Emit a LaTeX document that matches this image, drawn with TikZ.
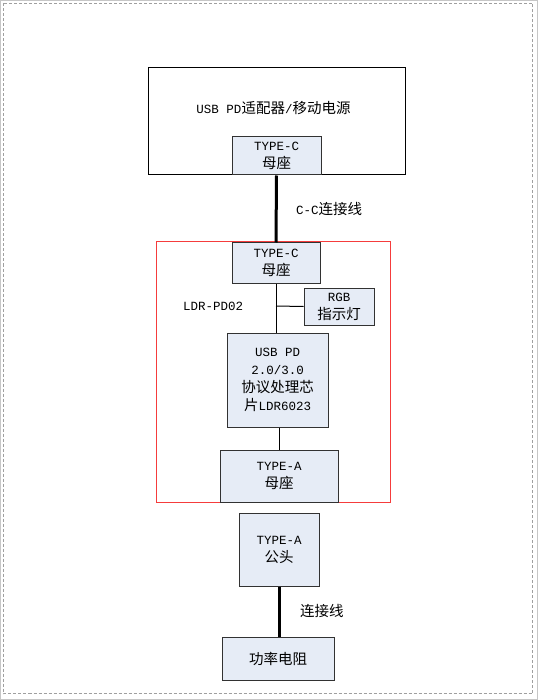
\documentclass[tikz,border=0pt]{standalone}
\usepackage{fontspec}
\setmainfont{Liberation Mono}
\newfontfamily\cjkf{Noto Sans CJK SC}
\newcommand{\cjk}{\cjkf\fontsize{14.5}{18}\selectfont}
\definecolor{boxfill}{RGB}{230,236,246}
\definecolor{boxline}{RGB}{50,50,50}
\definecolor{redline}{RGB}{245,60,60}
\tikzset{
  blk/.style={draw=boxline, line width=1pt, fill=boxfill, inner sep=0pt, align=center,
    font=\fontsize{12.5}{18}\selectfont},
  plain/.style={inner sep=0pt, font=\fontsize{12.5}{18}\selectfont},
  thin/.style={draw=black, line width=1pt},
  thick/.style={draw=black, line width=3pt},
}
\begin{document}
\begin{tikzpicture}[x=1pt,y=-1pt]
\useasboundingbox (0,0) rectangle (538,700);
\fill[white] (0,0) rectangle (538,700);
\draw[gray!45, line width=1pt] (0.5,0.5) rectangle (537.5,699.5);
\draw[gray!75, line width=1.5pt, dash pattern=on 3pt off 2pt] (3.5,3.5) rectangle (532.5,693.5);
% top device
\node[draw=black, line width=1pt, minimum width=257pt, minimum height=107pt, inner sep=0pt] (dev) at (276.5,121.5) {};
\node[plain] (devtxt) at (273.5,108) {USB PD{\cjk 适配器}/{\cjk 移动电源}};
\node[blk, minimum width=89pt, minimum height=38pt] (tc1) at (276.5,156) {TYPE-C\\{\cjk 母座}};
% red board
\node[draw=redline, line width=1pt, minimum width=234pt, minimum height=260pt, inner sep=0pt] (board) at (273,372) {};
\node[plain, anchor=west] (boardlbl) at (183,306) {LDR-PD02};
\node[blk, minimum width=88pt, minimum height=40pt] (tc2) at (276,263) {TYPE-C\\{\cjk 母座}};
\node[blk, minimum width=70pt, minimum height=37pt] (rgb) at (339,306.5) {RGB\\{\cjk 指示灯}};
\node[blk, minimum width=101pt, minimum height=94pt] (chip) at (277.5,380) {USB PD\\2.0/3.0\\{\cjk 协议处理芯}\\{\cjk 片}LDR6023};
\node[blk, minimum width=118pt, minimum height=52pt] (ta1) at (279,476) {TYPE-A\\{\cjk 母座}};
% below
\node[blk, minimum width=80pt, minimum height=73pt] (ta2) at (279,549.5) {TYPE-A\\{\cjk 公头}};
\node[blk, minimum width=112pt, minimum height=43pt] (res) at (278,658.5) {\cjk 功率电阻};
% connectors
\draw[thick] (tc1.south) -- (tc2.north);
\node[plain, anchor=west] (cclbl) at (296,209) {C-C{\cjk 连接线}};
\draw[thin] (tc2.south) -- (tc2.south |- chip.north);
\coordinate (br) at (276,306);
\draw[thin] (br) -- (rgb.west);
\draw[thin] (ta1.north |- chip.south) -- (ta1.north);
\draw[thick] (ta2.south) -- (ta2.south |- res.north);
\node[plain, anchor=west] (lnlbl) at (300,611) {\cjk 连接线};
\end{tikzpicture}
\end{document}
